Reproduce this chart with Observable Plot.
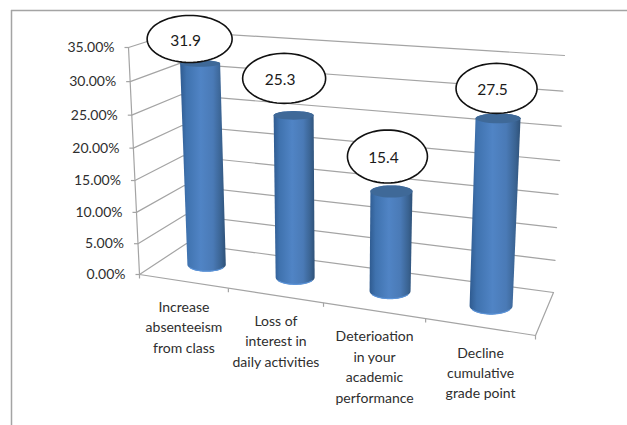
<!DOCTYPE html>
<html>
<head>
<meta charset="utf-8">
<style>html,body{margin:0;padding:0;background:#fff}svg{display:block}</style>
<script src="https://cdn.jsdelivr.net/npm/d3@7"></script>
<script src="https://cdn.jsdelivr.net/npm/@observablehq/plot@0.6"></script>
</head>
<body>
<script>
// ---- data ----
const categories = [
  "Increase\nabsenteeism\nfrom class",
  "Loss of\ninterest in\ndaily activities",
  "Deterioation\nin your\nacademic\nperformance",
  "Decline\ncumulative\ngrade point"
];
const values = [31.9, 25.3, 15.4, 27.5];
const valueLabels = ["31.9", "25.3", "15.4", "27.5"];
const axisTicks = [0, 5, 10, 15, 20, 25, 30, 35];

// ---- 3D view of the chart box: value/category space onto the page ----
const corners = {
  fl0: [139, 274], fl1: [128, 47], bl0: [186, 243], bl1: [178, 31],
  br0: [553, 292], br1: [564, 55], fr0: [535, 335], fr1: [548, 80]
};
const lerp = (a, b, k) => a + (b - a) * k;
const lerp2 = (a, b, k) => [lerp(a[0], b[0], k), lerp(a[1], b[1], k)];
const persp = (a, k) => a / (a + (1 - a) * k);
const uT = (u) => persp(u / categories.length, 1.152);
const vS = (v) => persp(v / 35, 1.0617);
function project(t, depth, s) {
  const c = corners;
  const bottom = lerp2(lerp2(c.fl0, c.fr0, t), lerp2(c.bl0, c.br0, t), depth);
  const top = lerp2(lerp2(c.fl1, c.fr1, t), lerp2(c.bl1, c.br1, t), depth);
  return lerp2(bottom, top, s);
}
const pt = (u, depth, v) => project(uT(u), depth, vS(v));

// ---- wall grid ----
const gridRows = axisTicks.flatMap((v) =>
  [pt(0, 0, v), pt(0, 1, v), pt(4, 1, v)].map(([x, y]) => ({v, x, y}))
);
const floorRows = [pt(0, 0, 0), pt(4, 0, 0), pt(4, 1, 0)].map(([x, y]) => ({x, y}));
const axisRows = [pt(0, 0, 0), pt(0, 0, 35)].map(([x, y]) => ({x, y}));
const axisPoints = axisTicks.map((v) => {
  const [x, y] = pt(0, 0, v);
  return {v, x, y, label: v.toFixed(2) + "%"};
});
const floorTicks = d3.range(0, categories.length + 1).map((u) => {
  const [x, y] = pt(u, 0, 0);
  return {x, y};
});

// ---- cylinders ----
const radius = [[20, 19.2], [20, 19.5], [21, 20.5], [22.5, 21.5]];
const flat = (rx, y) => rx * (0.1 + 0.001 * y);
const nudge = [1.5, 1.5, 1.5, 0.5];
const cylinders = values.map((v, i) => {
  const [bx, by] = pt(i + 0.5, 0.5, 0);
  const [tx, ty] = pt(i + 0.5, 0.5, v);
  const [rt, rb] = radius[i];
  return {i, bx: bx + nudge[i], by: by - 0.5, tx: tx + nudge[i], ty, rt, rb, rtY: flat(rt, ty), rbY: flat(rb, by)};
});
const sweep = (a0, a1, n = 32) => d3.range(n + 1).map((k) => lerp(a0, a1, k / n));
const bodyRows = cylinders.flatMap((c) => [
  ...sweep(Math.PI, 0).map((a) => ({i: c.i, x: c.tx + c.rt * Math.cos(a), y: c.ty - c.rtY * Math.sin(a)})),
  ...sweep(0, Math.PI).map((a) => ({i: c.i, x: c.bx + c.rb * Math.cos(a), y: c.by + c.rbY * Math.sin(a)}))
]);
const capRows = cylinders.flatMap((c) =>
  sweep(0, 2 * Math.PI).map((a) => ({i: c.i, x: c.tx + c.rt * Math.cos(a), y: c.ty + c.rtY * Math.sin(a)}))
);
const rimRows = cylinders.flatMap((c) =>
  sweep(0.18 * Math.PI, 0.82 * Math.PI).map((a) => ({i: c.i, x: c.bx + c.rb * Math.cos(a), y: c.by + c.rbY * Math.sin(a) - 0.4}))
);

// ---- callouts ----
const ovalBox = [[-10.5, -24.5, 42.5, 23.5], [-9.5, -37, 41.5, 25], [-4, -35, 40, 26.5], [-1.5, -30, 40.5, 25]];
const ovals = cylinders.map((c, i) => {
  const [dx, dy, rx, ry] = ovalBox[i];
  return {i, x: c.tx + dx, y: c.ty + dy, rx, ry, label: valueLabels[i]};
});
const ovalRows = ovals.flatMap((o) =>
  sweep(0, 2 * Math.PI, 72).map((a) => ({i: o.i, x: o.x + o.rx * Math.cos(a), y: o.y + o.ry * Math.sin(a)}))
);

// ---- category labels ----
const catRows = categories.map((label, i) => {
  const t = (uT(i) + uT(i + 1)) / 2;
  const [x, y] = project(t, 0, 0);
  return {label, x, y};
});

const grey = "#a4a4a4";
const font = "Lato, 'Open Sans', sans-serif";

const chart = Plot.plot({
  width: 627,
  height: 425,
  margin: 0,
  style: {background: "#fff", fontFamily: font},
  x: {domain: [0, 627], range: [0, 627], axis: null},
  y: {domain: [0, 425], range: [0, 425], axis: null},
  marks: [
    () => {
      const defs = d3.create("svg:defs");
      const g = defs.append("linearGradient").attr("id", "cyl").attr("x1", 0).attr("x2", 1).attr("y1", 0).attr("y2", 0);
      [[0, "#2f5b90"], [0.14, "#3f72ae"], [0.45, "#5084c5"], [0.72, "#4a7ab6"], [0.9, "#3a6392"], [1, "#2e5178"]]
        .forEach(([o, c]) => g.append("stop").attr("offset", o).attr("stop-color", c));
      return defs.node();
    },
    // frame
    Plot.ruleY([10], {x1: 11, x2: 627, stroke: grey, strokeWidth: 1.5}),
    Plot.ruleX([11], {y1: 10, y2: 425, stroke: grey, strokeWidth: 1.5}),
    // walls and floor
    Plot.line(gridRows, {x: "x", y: "y", z: "v", stroke: grey, strokeWidth: 1.2}),
    Plot.line(floorRows, {x: "x", y: "y", stroke: grey, strokeWidth: 1.2}),
    Plot.line(axisRows, {x: "x", y: "y", stroke: grey, strokeWidth: 1.2}),
    Plot.link(axisPoints, {x1: (d) => d.x - 4, x2: "x", y1: "y", y2: "y", stroke: grey, strokeWidth: 1.2}),
    Plot.link(floorTicks, {x1: "x", x2: "x", y1: "y", y2: (d) => d.y + 4, stroke: grey, strokeWidth: 1.2}),
    // cylinders
    Plot.line(bodyRows, {x: "x", y: "y", z: "i", fill: "url(#cyl)", stroke: "none"}),
    Plot.line(rimRows, {x: "x", y: "y", z: "i", stroke: "#5b93d8", strokeWidth: 1.2}),
    Plot.line(capRows, {x: "x", y: "y", z: "i", fill: "#3f6998", stroke: "none"}),
    // callouts
    Plot.line(ovalRows, {x: "x", y: "y", z: "i", fill: "#fff", stroke: "#111", strokeWidth: 1.6}),
    Plot.text(ovals, {x: (d) => d.x - 4, y: (d) => d.y + 2, text: "label", fontSize: 15.5, fill: "#1a1a1a", fontFamily: font}),
    // axis labels
    Plot.text(axisPoints, {x: (d) => d.x - 14, y: "y", text: "label", textAnchor: "end", fontSize: 14, fill: "#2e2e2e", fontFamily: font}),
    Plot.text(catRows, {x: "x", y: (d) => d.y + 16, text: "label", lineAnchor: "top", lineHeight: 1.46, fontSize: 14, fill: "#2e2e2e", fontFamily: font})
  ]
});
document.body.append(chart);
</script>
</body>
</html>
